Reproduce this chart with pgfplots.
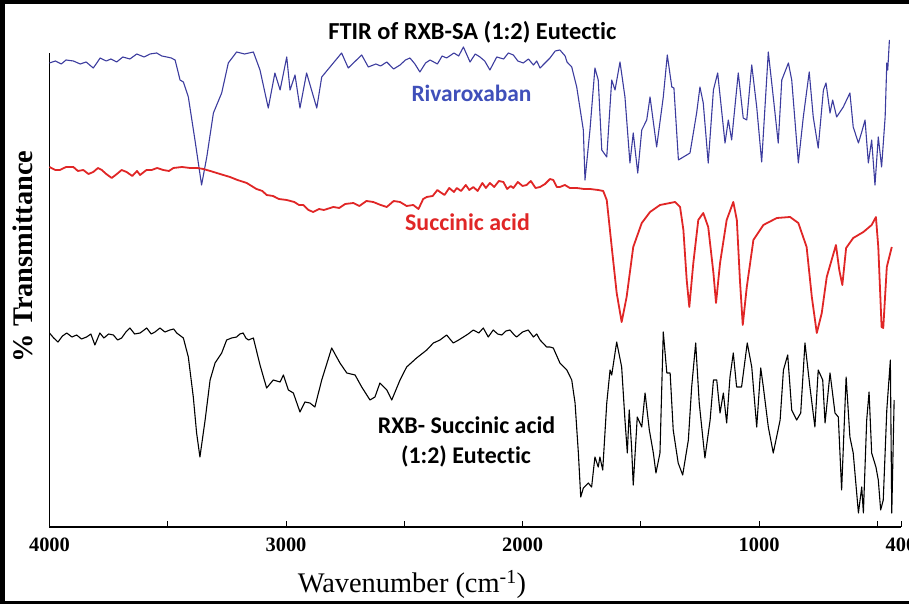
\documentclass[border=0pt]{standalone}
\usepackage{fontspec}
\setmainfont{Liberation Serif}
\newfontfamily\calib[Ligatures={NoCommon,NoRare}]{Carlito}
\usepackage{pgfplots}
\pgfplotsset{compat=1.18}
\definecolor{rxb}{HTML}{3C3C9E}
\definecolor{rxbtxt}{HTML}{4050BA}
\definecolor{sa}{HTML}{E02626}
\begin{document}
\begin{tikzpicture}
\path[use as bounding box] (0,0) rectangle (909bp,604bp);
\begin{axis}[
  scale only axis,
  width=851.5bp, height=474bp,
  at={(49.5bp,77bp)}, anchor=south west,
  xmin=400, xmax=4000, ymin=77, ymax=551,
  x dir=reverse,
  axis x line*=bottom, axis y line*=left,
  axis line style={black, line width=1.1pt, -},
  ytick=\empty,
  xtick={4000,3500,3000,2500,2000,1500,1000,500,400},
  xticklabels={\textbf{4000},,\textbf{3000},,\textbf{2000},,\textbf{1000},,\textbf{400}},
  tick align=inside,
  major tick length=6bp,
  tick style={black, line width=0.8pt},
  xticklabel style={font=\fontsize{20.5}{20.5}\selectfont, anchor=base, yshift=-24bp},
  xlabel={Wavenumber (cm\textsuperscript{-1})},
  xlabel style={font=\fontsize{28.5}{28.5}\selectfont, at={(axis description cs:0.4257,-0.1392)}, anchor=base},
  ylabel={\% Transmittance},
  ylabel style={font=\bfseries\fontsize{28.5}{28.5}\selectfont, at={(axis description cs:-0.0194,0.5707)}, anchor=base, rotate=0},
  clip=false,
  line join=round,
]
\addplot[rxb, line width=1.1bp] coordinates {
(4000,541) (3975,543) (3950,540) (3930,544) (3899,543) (3870,540) (3845,542) (3815,536)
(3800,541) (3786,546) (3760,543) (3740,545) (3716,542) (3690,547) (3660,545) (3631,550)
(3600,547) (3575,550) (3547,551) (3525,548) (3504,547) (3485,546) (3469,544) (3448,524)
(3434,522) (3413,507) (3385,464) (3357,419) (3335,447) (3307,491) (3272,511) (3244,541)
(3209,552) (3175,550) (3138,552) (3110,534) (3075,496) (3047,531) (3025,514) (2997,547)
(2983,514) (2962,529) (2941,496) (2913,531) (2870,496) (2849,527) (2800,541) (2765,551)
(2737,536) (2680,549) (2652,537) (2620,540) (2600,538) (2574,542) (2545,535) (2518,539)
(2495,544) (2476,546) (2455,540) (2434,532) (2410,541) (2391,544) (2360,540) (2340,548)
(2321,546) (2290,551) (2270,548) (2250,557) (2222,542) (2200,550) (2180,547) (2160,543)
(2138,534) (2109,547) (2080,545) (2060,551) (2039,549) (2020,543) (1997,541) (1975,545)
(1954,539) (1940,543) (1926,536) (1905,541) (1884,546) (1862,553) (1842,554) (1820,548)
(1812,542) (1792,537) (1771,517) (1743,474) (1736,424) (1715,474) (1694,536) (1680,524)
(1665,454) (1644,447) (1623,524) (1609,514) (1588,542) (1567,507) (1546,441) (1532,471)
(1513,431) (1496,474) (1475,484) (1461,507) (1433,457) (1405,507) (1388,549) (1369,517)
(1360,516) (1341,444) (1320,447) (1292,451) (1264,491) (1250,517) (1236,501) (1215,441)
(1193,514) (1175,531) (1144,461) (1130,484) (1116,464) (1088,531) (1067,486) (1052,484)
(1031,539) (1010,497) (989,442) (961,552) (940,507) (919,461) (904,524) (876,541)
(862,524) (834,441) (813,487) (788,532) (771,487) (750,456) (728,514) (717,521)
(700,491) (689,504) (672,487) (644,497) (616,511) (602,477) (580,461) (566,472)
(552,484) (538,441) (524,464) (510,419) (496,467) (482,437) (467,487) (460,541)
(456,534) (449,564)
};
\addplot[sa, line width=1.8bp] coordinates {
(4000,437) (3975,434) (3956,434) (3930,437) (3899,437) (3880,433) (3857,434) (3835,430)
(3815,432) (3795,436) (3779,434) (3760,430) (3737,426) (3715,430) (3695,434) (3674,432)
(3650,428) (3630,433) (3617,429) (3590,434) (3568,434) (3545,436) (3519,434) (3495,433)
(3476,436) (3440,437) (3406,436) (3375,436) (3350,435) (3320,433) (3293,431) (3265,429)
(3237,427) (3205,424) (3166,421) (3125,415) (3100,413) (3082,409) (3055,408) (3030,405)
(2997,404) (2965,402) (2945,399) (2927,399) (2905,394) (2885,392) (2860,395) (2840,394)
(2800,397) (2775,396) (2750,400) (2715,401) (2690,398) (2660,403) (2631,402) (2600,399)
(2574,397) (2545,403) (2518,402) (2490,398) (2462,399) (2440,395) (2420,405) (2405,407)
(2380,408) (2360,414) (2349,412) (2330,409) (2310,416) (2290,412) (2278,416) (2260,413)
(2240,419) (2225,414) (2208,417) (2190,413) (2170,421) (2155,416) (2138,421) (2120,417)
(2100,423) (2081,422) (2065,415) (2050,418) (2039,416) (2020,422) (2000,418) (1983,419)
(1965,423) (1945,416) (1926,417) (1905,420) (1884,425) (1870,424) (1855,417) (1842,417)
(1821,419) (1800,416) (1771,416) (1740,415) (1715,415) (1680,414) (1659,413) (1644,404)
(1623,357) (1602,311) (1581,282) (1560,307) (1532,357) (1496,381) (1461,392) (1419,399)
(1355,402) (1334,397) (1320,374) (1306,324) (1295,297) (1278,341) (1257,384) (1236,391)
(1215,377) (1193,331) (1182,301) (1165,341) (1137,384) (1109,402) (1094,384) (1081,324)
(1069,279) (1052,317) (1024,364) (982,379) (925,386) (869,387) (834,381) (799,357)
(777,307) (756,271) (735,291) (714,327) (675,359) (661,334) (648,319) (632,356)
(602,366) (559,372) (524,379) (506,387) (496,357) (482,277) (475,276) (460,337)
(439,357)
};
\addplot[black, line width=1.1bp] coordinates {
(4000,271) (3982,266) (3964,262) (3945,268) (3927,271) (3905,267) (3885,269) (3865,265)
(3843,267) (3825,270) (3808,259) (3787,271) (3770,266) (3750,270) (3730,269) (3712,264)
(3695,266) (3677,272) (3660,276) (3640,270) (3617,271) (3600,274) (3589,276) (3570,270)
(3554,272) (3533,276) (3512,272) (3491,274) (3475,275) (3462,271) (3434,266) (3413,247)
(3392,207) (3378,171) (3364,147) (3342,184) (3321,224) (3300,241) (3272,251) (3251,264)
(3230,266) (3209,267) (3195,270) (3181,271) (3170,266) (3159,264) (3138,266) (3110,239)
(3082,216) (3054,224) (3025,222) (3011,229) (2990,214) (2969,211) (2941,192) (2920,202)
(2899,201) (2878,197) (2849,224) (2807,256) (2772,241) (2743,231) (2708,229) (2680,217)
(2645,204) (2624,207) (2603,221) (2574,214) (2553,204) (2518,224) (2490,237) (2448,246)
(2405,254) (2377,261) (2349,264) (2321,269) (2293,261) (2270,264) (2250,267) (2230,270)
(2208,274) (2185,271) (2166,276) (2145,267) (2124,274) (2105,270) (2088,269) (2070,273)
(2053,274) (2035,269) (2025,267) (2000,272) (1976,274) (1954,267) (1940,270) (1926,264)
(1910,260) (1898,257) (1884,257) (1870,256) (1842,241) (1813,234) (1792,224) (1778,201)
(1764,151) (1754,107) (1743,116) (1722,121) (1708,117) (1694,147) (1680,137) (1673,147)
(1661,134) (1644,201) (1630,234) (1623,229) (1602,262) (1581,237) (1567,184) (1557,151)
(1549,194) (1539,157) (1532,119) (1515,187) (1496,177) (1482,211) (1464,174) (1447,151)
(1436,131) (1419,151) (1405,272) (1390,231) (1376,231) (1363,174) (1342,141) (1323,129)
(1299,164) (1285,217) (1268,261) (1253,201) (1229,146) (1207,184) (1193,224) (1179,224)
(1165,191) (1151,211) (1137,181) (1123,227) (1109,251) (1095,217) (1074,217) (1050,261)
(1031,237) (1010,177) (993,236) (982,217) (961,177) (940,151) (911,184) (897,234)
(879,249) (862,194) (841,184) (824,191) (806,261) (785,217) (764,177) (750,234)
(731,224) (721,181) (700,231) (679,191) (665,187) (651,114) (632,227) (616,167)
(602,151) (580,91) (566,117) (559,91) (545,184) (535,212) (524,151) (506,137)
(496,124) (486,94) (475,104) (460,194) (445,244) (439,91) (429,204)
};
\end{axis}
\node[anchor=base, font=\calib\bfseries\fontsize{24.5}{24.5}\selectfont] at (472.3bp,564bp) {FTIR of RXB-SA (1:2) Eutectic};
\node[anchor=base, text=rxbtxt, font=\calib\bfseries\fontsize{23.5}{23.5}\selectfont] at (471.5bp,502.3bp) {Rivaroxaban};
\node[anchor=base, text=sa, font=\calib\bfseries\fontsize{24}{24}\selectfont] at (467.5bp,373.3bp) {Succinic acid};
\node[anchor=base, font=\calib\bfseries\fontsize{24}{24}\selectfont] at (466.5bp,170.7bp) {RXB- Succinic acid};
\node[anchor=base, font=\calib\bfseries\fontsize{24}{24}\selectfont] at (466bp,140.7bp) {(1:2) Eutectic};
\draw[line width=5bp] (2.5bp,0) -- (2.5bp,604bp);
\draw[line width=4bp] (0,602bp) -- (909bp,602bp);
\draw[line width=3bp] (0,1.5bp) -- (909bp,1.5bp);
\end{tikzpicture}
\end{document}
